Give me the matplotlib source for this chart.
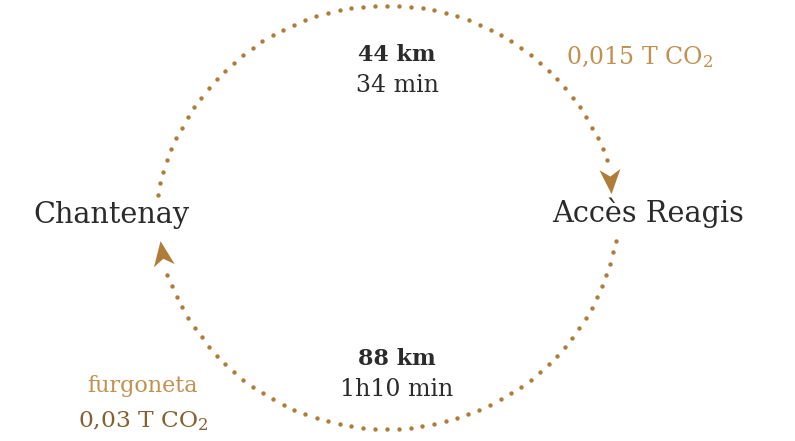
import matplotlib
matplotlib.use('Agg')
import matplotlib.pyplot as plt
import numpy as np
from matplotlib.patches import Polygon

# route data
places = ['Chantenay', 'Accès Reagis']
leg_km = ['44 km', '88 km']
leg_time = ['34 min', '1h10 min']
leg_co2 = ['0,015 T CO$_2$', '0,03 T CO$_2$']
vehicle = 'furgoneta'

GOLD = '#B07C3A'
GOLD_LIGHT = '#C0914F'
BROWN = '#86602F'
DARK = '#2B2B2B'

plt.rcParams['font.family'] = ['DejaVu Serif']
plt.rcParams['mathtext.fontset'] = 'dejavuserif'

fig = plt.figure(figsize=(7.95, 4.41), dpi=100)
ax = fig.add_axes([0, 0, 1, 1])
ax.set_xlim(0, 795)
ax.set_ylim(441, 0)
ax.axis('off')

R = 233.5
CX = 387
SPACING = 12


def arc_pts(cy, a0, a1, n, r=R):
    t = np.radians(np.linspace(a0, a1, n))
    return CX + r * np.cos(t), cy - r * np.sin(t)


def dotted_arc(cy, a0, a1):
    length = R * np.radians(abs(a1 - a0))
    n = int(round(length / SPACING)) + 1
    x, y = arc_pts(cy, a0, a1, n)
    ax.scatter(x, y, s=10, color=GOLD, linewidths=0, zorder=2)


def arrow_head(cy, a_base, a_tip, r_tip, half_w=10.5, notch=7):
    bx, by = arc_pts(cy, a_base, a_base, 1)
    tx, ty = arc_pts(cy, a_tip, a_tip, 1, r_tip)
    d = np.array([tx[0] - bx[0], ty[0] - by[0]])
    d = d / np.hypot(*d)
    p = np.array([-d[1], d[0]])
    tip = np.array([tx[0], ty[0]])
    base = np.array([bx[0], by[0]])
    pts = [tip, base + p * half_w, base + d * notch, base - p * half_w]
    ax.add_patch(Polygon(pts, closed=True, color=GOLD, lw=0, zorder=3))


# top leg: Chantenay -> Acces Reagis
dotted_arc(239, 169.1, 19.7)
arrow_head(239, 17.3, 11.3, 229)
# bottom leg: Acces Reagis -> Chantenay
dotted_arc(195.5, -11.2, -160.1)
arrow_head(195.5, -162.5, -168.6, 231)

# place names
ax.text(33, 223, places[0], fontsize=20.7, color=DARK, ha='left', va='baseline')
ax.text(552, 222, places[1], fontsize=20.7, color=DARK, ha='left', va='baseline')

# leg details
ax.text(397, 61, leg_km[0], fontsize=16, fontweight='bold', color=DARK,
        ha='center', va='baseline')
ax.text(397, 92, leg_time[0], fontsize=17, color=DARK, ha='center', va='baseline')
ax.text(397, 365, leg_km[1], fontsize=16, fontweight='bold', color=DARK,
        ha='center', va='baseline')
ax.text(397, 396, leg_time[1], fontsize=17, color=DARK, ha='center', va='baseline')

ax.text(566, 64, leg_co2[0], fontsize=17, color=GOLD_LIGHT, ha='left', va='baseline')
ax.text(143, 392, vehicle, fontsize=16, color=GOLD_LIGHT, ha='center', va='baseline')
ax.text(143, 427, leg_co2[1], fontsize=16.8, color=BROWN, ha='center', va='baseline')

fig.savefig('out.png', dpi=100, facecolor='white')
